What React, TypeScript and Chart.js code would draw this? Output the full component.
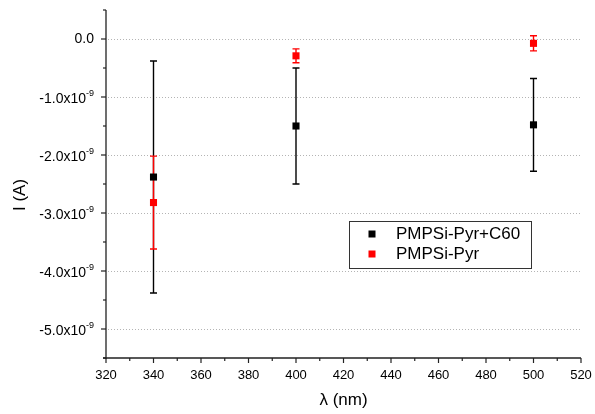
import React, { useEffect, useRef } from "react";
import { Chart, registerables } from "chart.js";

Chart.register(...registerables);

// ---- data ----
const wavelengths = [340, 400, 500];
const c60Label = "PMPSi-Pyr+C60";
const c60Values = [-2.38e-9, -1.5e-9, -1.48e-9];
const c60Errors = [2.0e-9, 1.0e-9, 0.8e-9];
const pyrLabel = "PMPSi-Pyr";
const pyrValues = [-2.82e-9, -0.29e-9, -0.075e-9];
const pyrErrors = [0.8e-9, 0.12e-9, 0.13e-9];

const xMin = 320;
const xMax = 520;
const xMajorStep = 20;
const xMinorStep = 10;
const yMin = -5.5e-9;
const yMax = 0.5e-9;
const yMajorTicks = [0, -1, -2, -3, -4, -5]; // in units of 1e-9
const yMinorStep = 0.5; // in units of 1e-9
const xTitle = "λ (nm)";
const yTitle = "I (A)";

const FONT = '"Liberation Sans", Arial, Helvetica, sans-serif';

const errorBars = {
  id: "errorBars",
  beforeDatasetsDraw(chart: any) {
    const ctx = chart.ctx;
    const xs = chart.scales.x;
    const ys = chart.scales.y;
    const area = chart.chartArea;
    // gridlines
    ctx.save();
    ctx.strokeStyle = "#b4b4b4";
    ctx.lineWidth = 1;
    ctx.setLineDash([1, 2]);
    yMajorTicks.forEach((t) => {
      const py = Math.round(ys.getPixelForValue(t * 1e-9)) + 0.5;
      ctx.beginPath();
      ctx.moveTo(area.left + 2, py);
      ctx.lineTo(area.right, py);
      ctx.stroke();
    });
    ctx.restore();

    // error bars
    chart.data.datasets.forEach((ds: any) => {
      const errs: number[] = ds.errors;
      ctx.save();
      ctx.strokeStyle = ds.errorColor;
      ctx.lineWidth = 1.4;
      ds.data.forEach((p: any, i: number) => {
        const px = xs.getPixelForValue(p.x);
        const top = ys.getPixelForValue(p.y + errs[i]);
        const bot = ys.getPixelForValue(p.y - errs[i]);
        ctx.beginPath();
        ctx.moveTo(px, top);
        ctx.lineTo(px, bot);
        ctx.moveTo(px - 3.5, top);
        ctx.lineTo(px + 3.5, top);
        ctx.moveTo(px - 3.5, bot);
        ctx.lineTo(px + 3.5, bot);
        ctx.stroke();
      });
      ctx.restore();
    });
  },
  afterDraw(chart: any) {
    const ctx = chart.ctx;
    const xs = chart.scales.x;
    const ys = chart.scales.y;
    const area = chart.chartArea;
    ctx.save();
    // axes
    ctx.strokeStyle = "#222";
    ctx.lineWidth = 1.3;
    ctx.beginPath();
    ctx.moveTo(area.left, area.top);
    ctx.lineTo(area.left, area.bottom + 1);
    ctx.moveTo(area.left - 3, area.bottom);
    ctx.lineTo(area.right, area.bottom);
    ctx.stroke();

    // x ticks
    ctx.lineWidth = 1.2;
    for (let v = xMin; v <= xMax; v += xMinorStep) {
      const px = xs.getPixelForValue(v);
      const major = (v - xMin) % xMajorStep === 0;
      ctx.beginPath();
      ctx.moveTo(px, area.bottom);
      ctx.lineTo(px, area.bottom + (major ? 5 : 3));
      ctx.stroke();
    }
    // y ticks
    for (let k = Math.round(yMin * 1e9 / yMinorStep); k <= Math.round(yMax * 1e9 / yMinorStep); k++) {
      const v = k * yMinorStep;
      const py = ys.getPixelForValue(v * 1e-9);
      const major = Math.abs(v - Math.round(v)) < 1e-6;
      ctx.beginPath();
      ctx.moveTo(area.left, py);
      ctx.lineTo(area.left - (major ? 5 : 3), py);
      ctx.stroke();
    }

    // x labels
    ctx.fillStyle = "#000";
    ctx.font = `13px ${FONT}`;
    ctx.textAlign = "center";
    ctx.textBaseline = "middle";
    for (let v = xMin; v <= xMax; v += xMajorStep) {
      ctx.fillText(String(v), xs.getPixelForValue(v), 375);
    }

    // y labels
    const rightX = area.left - 12;
    yMajorTicks.forEach((t) => {
      const py = ys.getPixelForValue(t * 1e-9);
      ctx.textAlign = "right";
      if (t === 0) {
        ctx.font = `14px ${FONT}`;
        ctx.fillText("0.0", rightX, py);
      } else {
        ctx.font = `9px ${FONT}`;
        const sup = "-9";
        const supW = ctx.measureText(sup).width;
        ctx.fillText(sup, rightX, py - 3);
        ctx.font = `14px ${FONT}`;
        ctx.fillText(t.toFixed(1) + "x10", rightX - supW, py + 2);
      }
    });

    // axis titles
    ctx.font = `17px ${FONT}`;
    ctx.textAlign = "center";
    ctx.fillText(xTitle, (area.left + area.right) / 2, 400);
    ctx.save();
    ctx.translate(20, 195);
    ctx.rotate(-Math.PI / 2);
    ctx.fillText(yTitle, 0, 0);
    ctx.restore();

    // legend
    ctx.strokeStyle = "#333";
    ctx.lineWidth = 1;
    ctx.strokeRect(349.5, 221.5, 182, 47);
    ctx.font = `17px ${FONT}`;
    ctx.textAlign = "left";
    chart.data.datasets.forEach((ds: any, i: number) => {
      const cy = 234 + i * 20;
      ctx.fillStyle = ds.backgroundColor;
      ctx.fillRect(368.5, cy - 3.5, 7, 7);
      ctx.fillStyle = "#000";
      ctx.fillText(ds.label, 396, cy);
    });
    ctx.restore();
  },
};

export default function App() {
  const ref = useRef<HTMLCanvasElement>(null);
  useEffect(() => {
    if (!ref.current) return;
    const chart = new Chart(ref.current, {
      type: "scatter",
      data: {
        datasets: [
          {
            label: c60Label,
            data: wavelengths.map((x, i) => ({ x, y: c60Values[i] })),
            errors: c60Errors,
            errorColor: "#000000",
            backgroundColor: "#000000",
            borderColor: "#000000",
            borderWidth: 0,
            pointStyle: "rect",
            pointRadius: 5,
            pointHoverRadius: 5,
          } as any,
          {
            label: pyrLabel,
            data: wavelengths.map((x, i) => ({ x, y: pyrValues[i] })),
            errors: pyrErrors,
            errorColor: "#ff0000",
            backgroundColor: "#ff0000",
            borderColor: "#ff0000",
            borderWidth: 0,
            pointStyle: "rect",
            pointRadius: 5,
            pointHoverRadius: 5,
          } as any,
        ],
      },
      options: {
        animation: false,
        responsive: false,
        devicePixelRatio: 1,
        layout: { padding: { left: 0, top: 10, right: 14, bottom: 0 } },
        plugins: { legend: { display: false }, tooltip: { enabled: false } },
        scales: {
          x: {
            type: "linear",
            min: xMin,
            max: xMax,
            ticks: { display: false, stepSize: xMajorStep },
            grid: { display: false },
            border: { display: false },
            afterFit: (s: any) => {
              s.height = 56;
            },
          },
          y: {
            type: "linear",
            min: yMin,
            max: yMax,
            ticks: { display: false },
            grid: { display: false },
            border: { display: false },
            afterFit: (s: any) => {
              s.width = 106;
            },
          },
        },
      },
      plugins: [errorBars],
    });
    return () => chart.destroy();
  }, []);
  return (
    <div style={{ position: "absolute", left: 0, top: 0, width: 595, height: 414, background: "#fff" }}>
      <canvas ref={ref} width={595} height={414} style={{ display: "block" }} />
    </div>
  );
}
